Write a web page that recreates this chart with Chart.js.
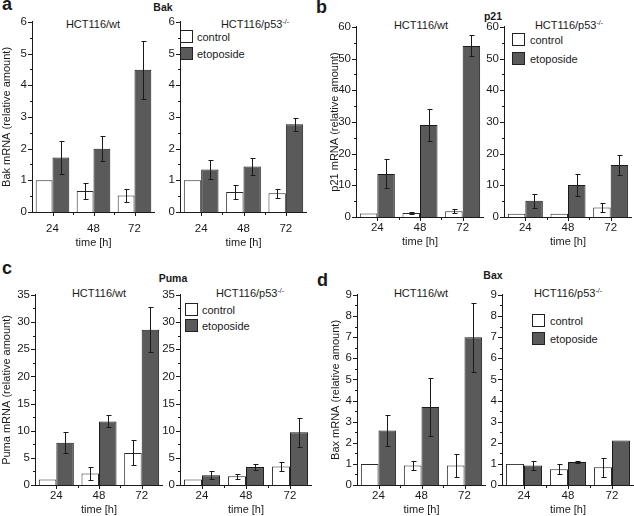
<!DOCTYPE html>
<html>
<head>
<meta charset="utf-8">
<script src="https://cdn.jsdelivr.net/npm/chart.js@4.4.1/dist/chart.umd.min.js"></script>
<style>
    body { margin: 0; background: #fff; }
    #fig { position: relative; width: 634px; height: 516px; overflow: hidden;
           font-family: "Liberation Sans", Arial, sans-serif; color: #1a1a1a; }
    #fig canvas { position: absolute; }
    .txt { position: absolute; white-space: nowrap; line-height: 1; font-size: 11px; }
    .ctr { transform: translate(-50%, -50%); }
    .letter { font-size: 18px; font-weight: bold; }
    .gene { font-weight: bold; font-size: 10.5px; }
    .mid { transform: translateY(-50%); }
    .key { position: absolute; width: 11px; height: 11px; border: 1px solid #222; }
    sup { font-size: 7px; line-height: 0; vertical-align: 4px; }
</style>
</head>
<body>
<div id="fig">
    <div class="txt letter" style="left:2px;top:-5px">a</div>
    <div class="txt letter" style="left:316px;top:-2px">b</div>
    <div class="txt letter" style="left:2px;top:259px">c</div>
    <div class="txt letter" style="left:317px;top:271px">d</div>

    <div class="txt gene ctr" style="left:163px;top:7px">Bak</div>
    <div class="txt gene ctr" style="left:493px;top:16px">p21</div>
    <div class="txt gene ctr" style="left:173px;top:278px">Puma</div>
    <div class="txt gene ctr" style="left:493px;top:275px">Bax</div>

    <div class="txt ctr" style="left:93px;top:24px">HCT116/wt</div>
    <div class="txt ctr" style="left:255px;top:24px">HCT116/p53<sup>-/-</sup></div>
    <div class="txt ctr" style="left:421px;top:25px">HCT116/wt</div>
    <div class="txt ctr" style="left:569px;top:25px">HCT116/p53<sup>-/-</sup></div>
    <div class="txt ctr" style="left:99px;top:293px">HCT116/wt</div>
    <div class="txt ctr" style="left:250px;top:293px">HCT116/p53<sup>-/-</sup></div>
    <div class="txt ctr" style="left:421px;top:293px">HCT116/wt</div>
    <div class="txt ctr" style="left:568px;top:293px">HCT116/p53<sup>-/-</sup></div>

    <div class="key" style="left:180px;top:30px;background:#fff"></div>
    <div class="key" style="left:180px;top:47px;background:#5a5a5a"></div>
    <div class="txt mid" style="left:197px;top:37px">control</div>
    <div class="txt mid" style="left:197px;top:54px">etoposide</div>

    <div class="key" style="left:512px;top:33px;background:#fff"></div>
    <div class="key" style="left:512px;top:52px;background:#5a5a5a"></div>
    <div class="txt mid" style="left:530px;top:40px">control</div>
    <div class="txt mid" style="left:530px;top:59px">etoposide</div>

    <div class="key" style="left:185px;top:303px;background:#fff"></div>
    <div class="key" style="left:185px;top:319px;background:#5a5a5a"></div>
    <div class="txt mid" style="left:202px;top:310px">control</div>
    <div class="txt mid" style="left:202px;top:326px">etoposide</div>

    <div class="key" style="left:532px;top:314px;background:#fff"></div>
    <div class="key" style="left:532px;top:332px;background:#5a5a5a"></div>
    <div class="txt mid" style="left:550px;top:321px">control</div>
    <div class="txt mid" style="left:550px;top:339px">etoposide</div>
</div>

<script>
// time points (h)
const hours = ["24", "48", "72"];

// Bak
const bakWtControl = [1.0, 0.66, 0.52];
const bakWtControlErr = [0, 0.24, 0.21];
const bakWtEtoposide = [1.72, 2.0, 4.49];
const bakWtEtoposideErr = [0.53, 0.4, 0.92];
const bakKoControl = [1.0, 0.63, 0.59];
const bakKoControlErr = [0, 0.21, 0.15];
const bakKoEtoposide = [1.34, 1.44, 2.77];
const bakKoEtoposideErr = [0.3, 0.27, 0.2];

// p21
const p21WtControl = [1.1, 1.3, 1.8];
const p21WtControlErr = [0, 0.4, 0.6];
const p21WtEtoposide = [13.6, 29.0, 54.0];
const p21WtEtoposideErr = [4.6, 5.0, 3.3];
const p21KoControl = [1.0, 1.0, 3.0];
const p21KoControlErr = [0, 0, 1.4];
const p21KoEtoposide = [5.1, 10.1, 16.4];
const p21KoEtoposideErr = [2.3, 3.5, 3.2];

// Puma
const pumaWtControl = [1.0, 2.1, 5.9];
const pumaWtControlErr = [0, 1.2, 2.3];
const pumaWtEtoposide = [7.8, 11.7, 28.6];
const pumaWtEtoposideErr = [1.9, 1.1, 4.2];
const pumaKoControl = [1.0, 1.6, 3.4];
const pumaKoControlErr = [0, 0.5, 0.75];
const pumaKoEtoposide = [1.8, 3.3, 9.7];
const pumaKoEtoposideErr = [0.7, 0.6, 2.7];

// Bax
const baxWtControl = [1.0, 0.92, 0.92];
const baxWtControlErr = [0, 0.2, 0.56];
const baxWtEtoposide = [2.58, 3.69, 7.0];
const baxWtEtoposideErr = [0.75, 1.36, 1.63];
const baxKoControl = [1.0, 0.75, 0.84];
const baxKoControlErr = [0, 0.23, 0.45];
const baxKoEtoposide = [0.92, 1.09, 2.11];
const baxKoEtoposideErr = [0.2, 0.03, 0];

// y axis ranges: [max, step]
const bakAxis = [6, 1];
const p21Axis = [60, 10];
const pumaAxis = [35, 5];
const baxAxis = [9, 1];

const FONT = "'Liberation Sans', Arial, sans-serif";
const INK = "#1a1a1a";

// error bars, drawn from the y scale
const errorBars = {
    id: "errorBars",
    afterDatasetsDraw(chart) {
        const ctx = chart.ctx;
        const y = chart.scales.y;
        ctx.save();
        ctx.strokeStyle = INK;
        ctx.lineWidth = 1;
        chart.data.datasets.forEach((ds, i) => {
            chart.getDatasetMeta(i).data.forEach((bar, j) => {
                const err = ds.errors[j];
                if (!err) return;
                const top = Math.round(y.getPixelForValue(ds.data[j] + err)) + 0.5;
                const bot = Math.round(y.getPixelForValue(Math.max(ds.data[j] - err, 0))) + 0.5;
                const x = Math.round(bar.x) + 0.5;
                ctx.beginPath();
                ctx.moveTo(x, top); ctx.lineTo(x, bot);
                ctx.moveTo(x - 2, top); ctx.lineTo(x + 3, top);
                ctx.moveTo(x - 2, bot); ctx.lineTo(x + 3, bot);
                ctx.stroke();
            });
        });
        ctx.restore();
    }
};

// major + minor tick marks on both axes
const tickMarks = {
    id: "tickMarks",
    afterDraw(chart) {
        const {ctx, chartArea, scales: {x, y}} = chart;
        const step = y.options.ticks.stepSize;
        ctx.save();
        ctx.strokeStyle = INK;
        ctx.lineWidth = 1;
        ctx.beginPath();
        for (let k = 0; k * step / 2 <= y.max + 1e-9; k++) {
            const py = Math.round(y.getPixelForValue(k * step / 2)) + 0.5;
            const len = k % 2 === 0 ? 4 : 2;
            ctx.moveTo(chartArea.left, py);
            ctx.lineTo(chartArea.left - len, py);
        }
        for (let i = 0; i < hours.length; i++) {
            const px = Math.round(x.getPixelForTick(i)) + 0.5;
            ctx.moveTo(px, chartArea.bottom);
            ctx.lineTo(px, chartArea.bottom + 4);
            if (i > 0) {
                const pm = Math.round((x.getPixelForTick(i - 1) + x.getPixelForTick(i)) / 2) + 0.5;
                ctx.moveTo(pm, chartArea.bottom);
                ctx.lineTo(pm, chartArea.bottom + 3);
            }
        }
        ctx.stroke();
        ctx.restore();
    }
};

function makeChart(frame, control, controlErr, etoposide, etoposideErr, axis) {
    const padTop = 10;
    const left = frame.plotL - frame.yW;
    const top = frame.plotTop - padTop;
    const canvas = document.createElement("canvas");
    canvas.width = frame.plotR - left;
    canvas.height = frame.plotBottom + frame.xH - top;
    canvas.style.left = left + "px";
    canvas.style.top = top + "px";
    document.getElementById("fig").appendChild(canvas);

    const tickFont = { family: FONT, size: 11.5 };
    const titleFont = { family: FONT, size: 11 };

    return new Chart(canvas, {
        type: "bar",
        data: {
            labels: hours,
            datasets: [
                {
                    label: "control",
                    data: control,
                    errors: controlErr,
                    backgroundColor: "#ffffff",
                    borderColor: "#2a2a2a",
                    borderWidth: 1,
                    categoryPercentage: 0.82,
                    barPercentage: 1
                },
                {
                    label: "etoposide",
                    data: etoposide,
                    errors: etoposideErr,
                    backgroundColor: "#5a5a5a",
                    borderColor: "#1a1a1a",
                    borderWidth: 1,
                    categoryPercentage: 0.82,
                    barPercentage: 1
                }
            ]
        },
        options: {
            responsive: false,
            animation: false,
            devicePixelRatio: 1,
            layout: { padding: { top: padTop, right: 0, bottom: 0, left: 0 } },
            plugins: { legend: { display: false }, tooltip: { enabled: false } },
            scales: {
                x: {
                    grid: { display: false, drawTicks: false },
                    border: { display: true, color: INK, width: 1 },
                    ticks: { font: tickFont, color: INK, padding: frame.labelPad, maxRotation: 0 },
                    title: { display: true, text: "time [h]", font: titleFont, color: INK, padding: 0 },
                    afterFit: s => { s.height = frame.xH; }
                },
                y: {
                    min: 0,
                    max: axis[0],
                    grid: { display: false, drawTicks: false },
                    border: { display: true, color: INK, width: 1 },
                    ticks: { stepSize: axis[1], font: tickFont, color: INK, padding: 5 },
                    title: {
                        display: !!frame.yTitle,
                        text: frame.yTitle || "",
                        font: titleFont,
                        color: INK,
                        padding: 0
                    },
                    afterFit: s => { s.width = frame.yW; }
                }
            }
        },
        plugins: [errorBars, tickMarks]
    });
}

document.addEventListener("DOMContentLoaded", function () {
    makeChart({ plotL: 32, plotR: 155, plotTop: 20, plotBottom: 212, yW: 32, xH: 38, labelPad: 10,
                yTitle: "Bak mRNA (relative amount)" },
              bakWtControl, bakWtControlErr, bakWtEtoposide, bakWtEtoposideErr, bakAxis);
    makeChart({ plotL: 180, plotR: 307, plotTop: 20, plotBottom: 212, yW: 22, xH: 38, labelPad: 10 },
              bakKoControl, bakKoControlErr, bakKoEtoposide, bakKoEtoposideErr, bakAxis);

    makeChart({ plotL: 356, plotR: 484, plotTop: 25, plotBottom: 217, yW: 28, xH: 32, labelPad: 4,
                yTitle: "p21 mRNA (relative amount)" },
              p21WtControl, p21WtControlErr, p21WtEtoposide, p21WtEtoposideErr, p21Axis);
    makeChart({ plotL: 504, plotR: 632, plotTop: 25, plotBottom: 217, yW: 22, xH: 32, labelPad: 4 },
              p21KoControl, p21KoControlErr, p21KoEtoposide, p21KoEtoposideErr, p21Axis);

    makeChart({ plotL: 35, plotR: 163, plotTop: 293, plotBottom: 485, yW: 35, xH: 32, labelPad: 4,
                yTitle: "Puma mRNA (relative amount)" },
              pumaWtControl, pumaWtControlErr, pumaWtEtoposide, pumaWtEtoposideErr, pumaAxis);
    makeChart({ plotL: 180, plotR: 312, plotTop: 293, plotBottom: 485, yW: 22, xH: 32, labelPad: 4 },
              pumaKoControl, pumaKoControlErr, pumaKoEtoposide, pumaKoEtoposideErr, pumaAxis);

    makeChart({ plotL: 357, plotR: 486, plotTop: 293, plotBottom: 485, yW: 28, xH: 32, labelPad: 4,
                yTitle: "Bax mRNA (relative amount)" },
              baxWtControl, baxWtControlErr, baxWtEtoposide, baxWtEtoposideErr, baxAxis);
    makeChart({ plotL: 502, plotR: 634, plotTop: 293, plotBottom: 485, yW: 22, xH: 32, labelPad: 4 },
              baxKoControl, baxKoControlErr, baxKoEtoposide, baxKoEtoposideErr, baxAxis);
});
</script>
</body>
</html>
